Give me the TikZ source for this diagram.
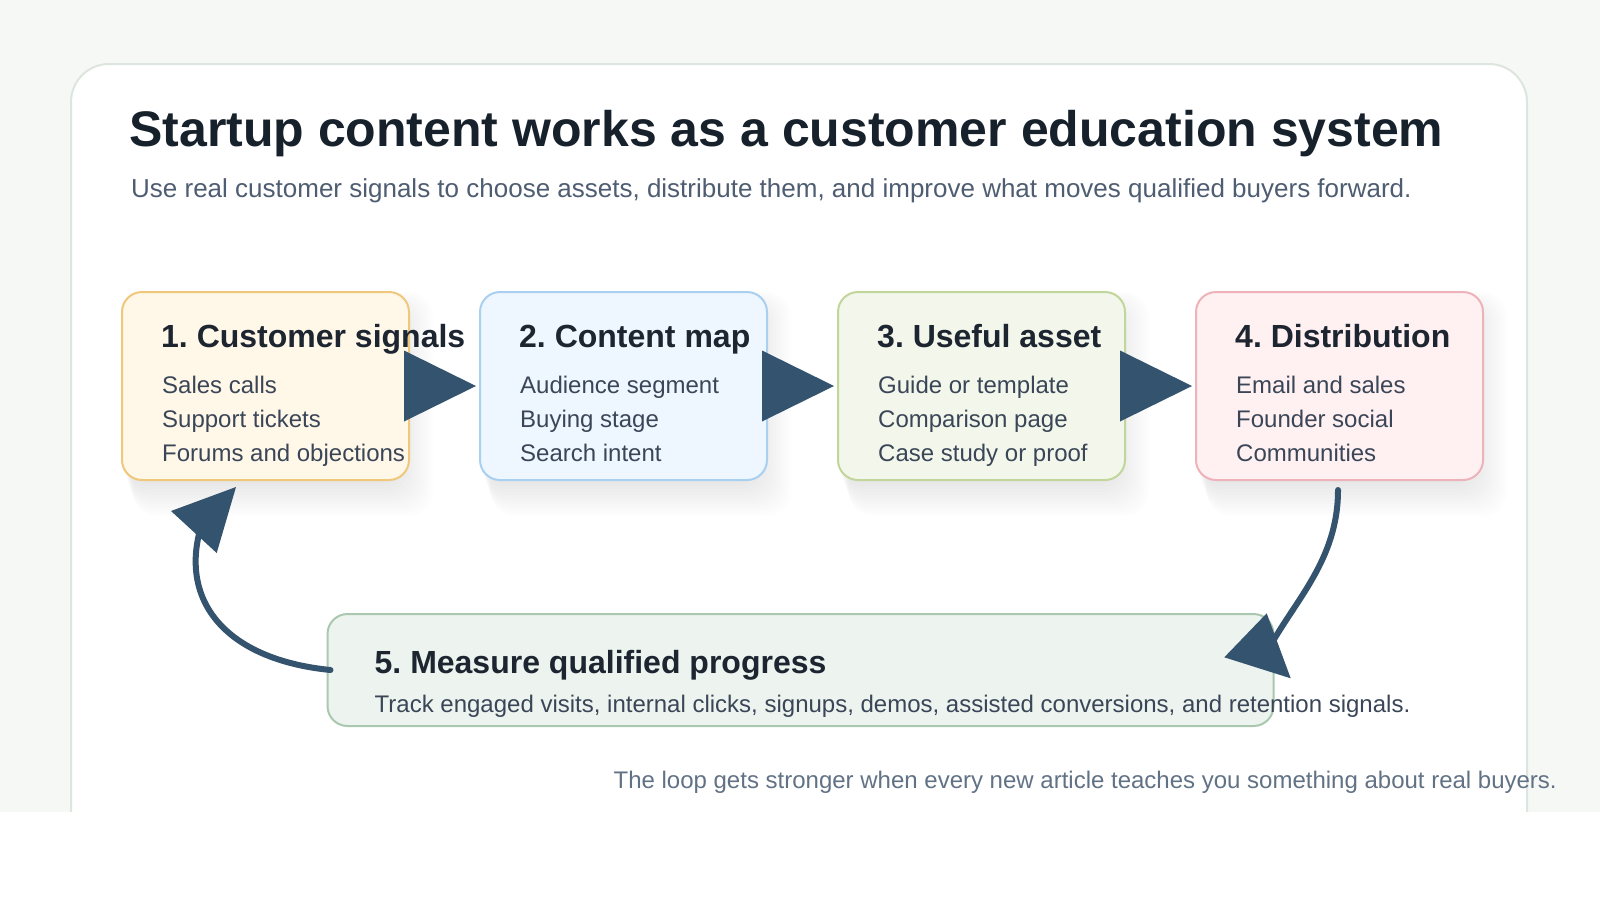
\documentclass[tikz,border=0pt]{standalone}
\usepackage{fontspec}
\setmainfont{Liberation Sans}
\usetikzlibrary{arrows.meta, positioning, calc}
\frenchspacing

\definecolor{pagebg}{HTML}{F6F8F5}
\definecolor{cardline}{HTML}{DDE5DF}
\definecolor{titlec}{HTML}{17212B}
\definecolor{subc}{HTML}{4E5D71}
\definecolor{headc}{HTML}{1C2530}
\definecolor{itemc}{HTML}{3A4657}
\definecolor{notec}{HTML}{627285}
\definecolor{arrowc}{HTML}{34536E}
\definecolor{shadec}{HTML}{2A3350}
\definecolor{signalfill}{HTML}{FFF7E8}
\definecolor{signalline}{HTML}{EFC87C}
\definecolor{mapfill}{HTML}{EEF6FF}
\definecolor{mapline}{HTML}{A9D0F0}
\definecolor{assetfill}{HTML}{F3F7EB}
\definecolor{assetline}{HTML}{C1D69B}
\definecolor{distfill}{HTML}{FFF0F1}
\definecolor{distline}{HTML}{EEB2BA}
\definecolor{measurefill}{HTML}{EDF3EE}
\definecolor{measureline}{HTML}{AAC8AF}

\pgfdeclarelayer{back}
\pgfdeclarelayer{shade}
\pgfsetlayers{back,shade,main}

\begin{document}
\frenchspacing
\begin{tikzpicture}[x=1pt, y=-1pt,
  stage/.style={rectangle, draw, rounded corners=20pt, line width=2pt, outer sep=0pt,
                minimum width=287pt, minimum height=188pt},
  head/.style={anchor=base west, inner sep=0pt, text=headc,
               font=\bfseries\fontsize{32pt}{38pt}\selectfont},
  items/.style={anchor=north west, inner sep=0pt, align=left, text=itemc,
                font=\fontsize{24pt}{34pt}\selectfont},
  small/.style={inner sep=0pt, font=\fontsize{24pt}{30pt}\selectfont},
  flow/.style={draw=arrowc, line width=6pt, shorten >=4pt,
               -{Triangle[length=72pt, width=71pt, line width=0pt]}},
  loopline/.style={draw=arrowc, line width=6pt, line cap=round},
]
\useasboundingbox (0,0) rectangle (1600,900);

\begin{pgfonlayer}{back}
  \fill[pagebg] (0,0) rectangle (1600,812);
  \draw[cardline, fill=white, line width=2pt, rounded corners=38pt] (71,64) rectangle (1527,850);
  \fill[white] (0,812) rectangle (1600,900);
\end{pgfonlayer}

\node[anchor=base west, inner sep=0pt, text=titlec,
      font=\bfseries\fontsize{50pt}{60pt}\selectfont] (title) at (129,146)
  {Startup content works as a customer education system};
\node[anchor=base west, inner sep=0pt, text=subc,
      font=\fontsize{26pt}{32pt}\selectfont] (subtitle) at (131,197)
  {Use real customer signals to choose assets, distribute them, and improve what moves qualified buyers forward.};

\node[stage, fill=signalfill, draw=signalline] (b1) at (265.5,386) {};
\node[stage, fill=mapfill,    draw=mapline,    right=71pt of b1] (b2) {};
\node[stage, fill=assetfill,  draw=assetline,  right=71pt of b2] (b3) {};
\node[stage, fill=distfill,   draw=distline,   right=71pt of b3] (b4) {};

\coordinate (mid) at ($(b2.south)!0.5!(b3.south)$);
\node[stage, fill=measurefill, draw=measureline, minimum width=946pt, minimum height=112pt,
      below=134pt of mid, xshift=-2pt] (b5) {};

\begin{pgfonlayer}{shade}
  \foreach \b in {b1,b2,b3,b4}
    \foreach \k [evaluate=\k as \sx using 9-3*\k, evaluate=\k as \ty using 16.5-1.5*\k,
                 evaluate=\k as \ex using 3*\k-9, evaluate=\k as \by using 3*\k+3] in {0,...,11}
      \fill[shadec, opacity=0.008, rounded corners=24pt]
        ($(\b.north west)+(\sx,\ty)$) rectangle ($(\b.south east)+(\ex,\by)$);
\end{pgfonlayer}

\node[head]  (t1) at ($(b1.north west)+(39,55)$) {1. Customer signals};
\node[items] (i1) at ($(b1.north west)+(40,83.5)$) {Sales calls\\Support tickets\\Forums and objections};
\node[head]  (t2) at ($(b2.north west)+(39,55)$) {2. Content map};
\node[items] (i2) at ($(b2.north west)+(40,83.5)$) {Audience segment\\Buying stage\\Search intent};
\node[head]  (t3) at ($(b3.north west)+(39,55)$) {3. Useful asset};
\node[items] (i3) at ($(b3.north west)+(40,83.5)$) {Guide or template\\Comparison page\\Case study or proof};
\node[head]  (t4) at ($(b4.north west)+(39,55)$) {4. Distribution};
\node[items] (i4) at ($(b4.north west)+(40,83.5)$) {Email and sales\\Founder social\\Communities};

\node[head] (t5) at ($(b5.north west)+(47,59)$) {5. Measure qualified progress};
\node[small, anchor=base west, text=itemc] (d5) at ($(b5.north west)+(47,98)$)
  {Track engaged visits, internal clicks, signups, demos, assisted conversions, and retention signals.};

\node[small, anchor=base east, text=notec] (note) at (1557,788)
  {The loop gets stronger when every new article teaches you something about real buyers.};

\draw[flow] (b1) -- (b2);
\draw[flow] (b2) -- (b3);
\draw[flow] (b3) -- (b4);

% loop back
\coordinate (rend) at (1268,650);
\coordinate (lend) at (200,530);
\draw[loopline] ($(b4.south)+(-1.5,10)$) .. controls (1338,560) and (1295,600) .. (rend);
\draw[loopline] ($(b5.west)+(3,0)$) .. controls (230,660) and (180,605) .. (lend);

\coordinate (rtip) at (1290.7,678.3);
\coordinate (ltip) at (236,487);
\fill[arrowc] (rtip) -- (1266.7,613.3) -- (1224.3,657.3) -- cycle;
\fill[arrowc] (ltip) -- (171,511) -- (216.7,553) -- cycle;
\end{tikzpicture}
\end{document}
